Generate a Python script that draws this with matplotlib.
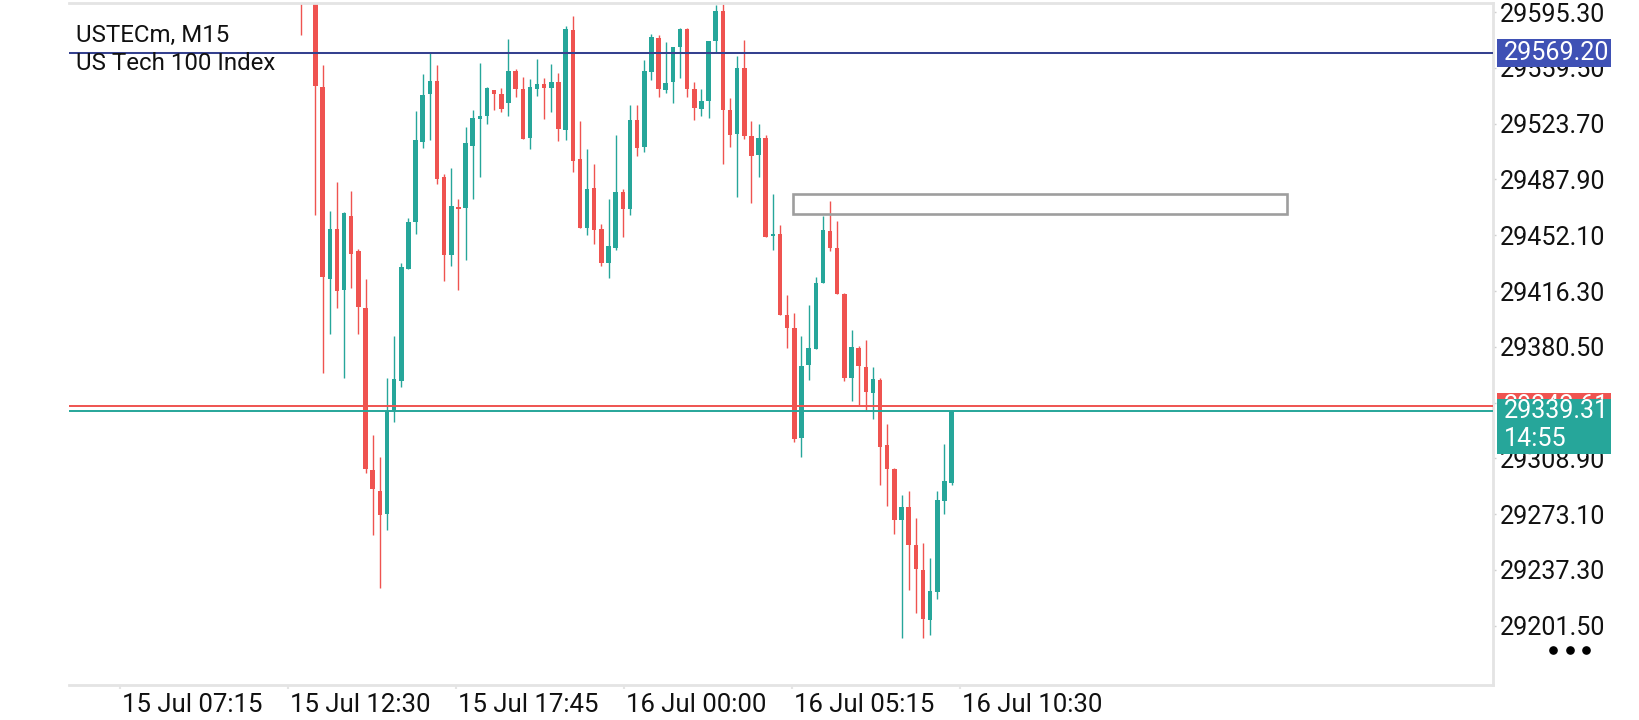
import numpy as np
import matplotlib
matplotlib.use("Agg")
import matplotlib.pyplot as plt
from matplotlib.patches import Rectangle
from matplotlib.lines import Line2D
import matplotlib.transforms as mtransforms

plt.rcParams['font.family'] = ['Roboto', 'DejaVu Sans']

# ---------------- data (M15 candles, bar index 0 = left-most visible) ----------------
opens = [29640.0, np.nan, 29612.0, 29547.4, 29424.3, 29456.3, 29417.1, 29464.7, 29441.8, 29405.4,
         29301.6, 29288.1, 29273.0, 29339.6, 29358.3, 29430.6, 29460.5, 29512.0, 29542.7, 29551.3,
         29489.4, 29439.4, 29470.1, 29469.9, 29509.4, 29526.6, 29528.4, 29545.5, 29542.9, 29536.9,
         29557.8, 29546.1, 29514.6, 29545.8, 29549.2, 29546.3, 29550.7, 29519.8, 29583.8, 29500.8,
         29456.6, 29482.3, 29455.8, 29434.0, 29443.6, 29480.0, 29468.8, 29526.3, 29508.6, 29556.7,
         29578.6, 29545.3, 29550.2, 29573.1, 29584.3, 29546.1, 29533.1, 29538.3, 29576.7, 29596.0,
         29532.5, 29517.2, 29559.6, 29515.6, 29503.7, 29514.3, 29451.7, 29453.2, 29400.9, 29392.6,
         29322.1, 29368.7, 29379.4, 29421.3, 29454.8, 29444.0, 29414.3, 29360.7, 29379.8, 29367.7,
         29350.8, 29359.4, 29317.5, 29302.2, 29269.0, 29277.4, 29253.3, 29237.2, 29205.2, 29223.0,
         29281.5, 29293.3]
highs = [29652.0, np.nan, 29618.0, 29561.4, 29467.8, 29486.2, 29467.3, 29480.5, 29443.1, 29423.8,
         29323.7, 29309.7, 29360.6, 29387.4, 29434.5, 29463.1, 29531.8, 29555.7, 29569.2, 29561.4,
         29491.7, 29495.3, 29475.1, 29521.9, 29532.8, 29562.7, 29547.1, 29545.5, 29546.8, 29578.0,
         29558.8, 29553.9, 29552.6, 29565.3, 29553.1, 29562.2, 29556.5, 29586.4, 29592.6, 29525.2,
         29507.3, 29497.7, 29459.5, 29475.3, 29516.4, 29481.8, 29535.4, 29535.9, 29564.3, 29581.2,
         29580.4, 29576.2, 29572.8, 29585.1, 29585.0, 29550.5, 29546.1, 29576.7, 29599.6, 29600.5,
         29540.1, 29566.9, 29577.3, 29525.5, 29523.2, 29516.4, 29478.7, 29458.9, 29413.7, 29402.0,
         29387.2, 29407.2, 29425.1, 29464.3, 29473.9, 29461.2, 29415.2, 29391.2, 29381.1, 29384.9,
         29367.7, 29360.7, 29330.8, 29302.9, 29285.5, 29288.2, 29270.4, 29254.5, 29245.0, 29287.8,
         29318.3, 29339.31]
lows = [29580.9, np.nan, 29464.9, 29363.5, 29388.5, 29405.1, 29360.4, 29418.4, 29388.5, 29299.3,
        29259.7, 29225.4, 29262.9, 29332.3, 29354.4, 29430.6, 29452.7, 29508.1, 29513.0, 29485.2,
        29422.8, 29432.4, 29417.1, 29436.3, 29475.3, 29489.4, 29523.4, 29532.5, 29531.2, 29528.6,
        29540.6, 29513.8, 29507.6, 29541.4, 29526.6, 29531.2, 29512.5, 29513.3, 29493.0, 29456.6,
        29452.2, 29446.7, 29432.4, 29424.6, 29442.6, 29450.9, 29464.9, 29503.1, 29505.7, 29551.5,
        29540.6, 29543.7, 29536.9, 29553.3, 29540.9, 29526.0, 29528.6, 29527.3, 29569.7, 29497.9,
        29508.9, 29476.9, 29513.8, 29472.7, 29489.6, 29450.9, 29442.8, 29400.7, 29379.6, 29319.5,
        29309.7, 29359.1, 29379.4, 29421.3, 29441.9, 29414.3, 29358.4, 29345.7, 29342.9, 29339.5,
        29334.2, 29291.6, 29278.3, 29260.5, 29193.3, 29224.5, 29209.6, 29193.5, 29195.4, 29218.9,
        29273.0, 29291.6]
closes = [29612.0, np.nan, 29547.6, 29425.4, 29456.3, 29416.6, 29466.2, 29439.9, 29406.2, 29301.9,
          29289.1, 29272.5, 29339.1, 29359.6, 29431.6, 29460.8, 29513.0, 29542.4, 29551.0, 29488.3,
          29439.4, 29470.9, 29468.8, 29511.2, 29527.6, 29528.4, 29546.3, 29542.7, 29533.3, 29557.8,
          29545.8, 29513.8, 29547.4, 29549.2, 29546.3, 29550.7, 29520.3, 29584.3, 29500.0, 29456.6,
          29481.8, 29455.3, 29434.0, 29444.9, 29480.0, 29468.8, 29526.3, 29508.1, 29557.8, 29579.3,
          29545.8, 29549.9, 29572.8, 29584.3, 29546.1, 29533.6, 29538.0, 29576.7, 29596.0, 29532.5,
          29516.4, 29559.6, 29515.9, 29503.1, 29514.8, 29450.9, 29452.2, 29400.7, 29392.4, 29321.4,
          29368.4, 29379.9, 29421.7, 29455.4, 29443.6, 29414.3, 29360.7, 29380.4, 29367.9, 29351.2,
          29360.1, 29316.4, 29301.8, 29269.0, 29277.4, 29253.1, 29237.6, 29205.8, 29224.0, 29281.9,
          29294.6, 29339.31]

bid_price = 29339.31
ask_price = 29342.61
alert_price = 29569.20
time_left = "14:55"

zone_start, zone_end = 68.75, 137.97          # bar index
zone_low, zone_high = 29466.0, 29478.4

price_ticks = [29595.30, 29559.50, 29523.70, 29487.90, 29452.10, 29416.30,
               29380.50, 29344.70, 29308.90, 29273.10, 29237.30, 29201.50]
time_tick_pos = [-25.31, -1.81, 21.69, 45.19, 68.68, 92.18]
time_tick_labels = ["15 Jul 07:15", "15 Jul 12:30", "15 Jul 17:45",
                    "16 Jul 00:00", "16 Jul 05:15", "16 Jul 10:30"]

symbol_text = "USTECm, M15"
symbol_desc = "US Tech 100 Index"

# ---------------- style ----------------
UP = '#26a69a'
DOWN = '#ef5350'
ALERT = '#35418f'
ALERT_BOX = '#3f51b5'
GRID = '#e4e4e4'
FS_PRICE = 18.1
FS_TIME = 18.5
FS_TITLE = 17.3

W, H = 1640, 720
ax_l, ax_r, ax_t, ax_b = 69.0, 1493.3, 2.5, 685.0

fig = plt.figure(figsize=(W / 100, H / 100), dpi=100)
fig.patch.set_facecolor('white')
ax = fig.add_axes([ax_l / W, 1 - ax_b / H, (ax_r - ax_l) / W, (ax_b - ax_t) / H])
ax.set_facecolor('white')

o = np.array(opens, float)
h = np.array(highs, float)
l = np.array(lows, float)
c = np.array(closes, float)
idx = np.arange(len(o))
ok = ~np.isnan(o)
up = c >= o
cols = np.where(up, UP, DOWN)

ax.vlines(idx[ok], l[ok], h[ok], colors=cols[ok], linewidth=1.0, zorder=2)
body_bottom = np.minimum(o, c)
body_h = np.maximum(np.abs(c - o), 1.0)
ax.bar(idx[ok], body_h[ok], bottom=body_bottom[ok], width=0.63, color=cols[ok],
       linewidth=0, zorder=2.1)

# price lines
ax.axhline(alert_price, color=ALERT, lw=1.45, zorder=3)
ax.axhline(ask_price, color=DOWN, lw=1.4, zorder=3)
ax.axhline(bid_price, color=UP, lw=1.4, zorder=3)

# zone rectangle
ax.add_patch(Rectangle((zone_start, zone_low), zone_end - zone_start, zone_high - zone_low,
                       fill=False, edgecolor='#9e9e9e', lw=1.9, zorder=3))

ax.set_xlim(-32.49, 166.8)
ax.set_ylim(29163.4, 29601.5)

# spines
ax.spines['left'].set_visible(False)
for s in ('top', 'right', 'bottom'):
    ax.spines[s].set_color(GRID)
    ax.spines[s].set_linewidth(2.0)

# y axis on the right
ax.yaxis.tick_right()
ax.set_yticks(price_ticks)
ax.set_yticklabels([f"{v:.2f}" for v in price_ticks])
ax.tick_params(axis='y', which='both', length=2.5, width=1, color='#cfcfcf', pad=2.5,
               labelsize=FS_PRICE, labelcolor='#111111', left=False, right=True)

# x axis
ax.set_xticks(time_tick_pos)
ax.set_xticklabels(time_tick_labels)
ax.tick_params(axis='x', length=3.0, width=1.5, color=GRID, pad=3.0,
               labelsize=FS_TIME, labelcolor='#111111')
for lbl in ax.get_xticklabels():
    lbl.set_ha('left')
    lbl.set_transform(lbl.get_transform() + mtransforms.ScaledTranslation(2 / 100, 0, fig.dpi_scale_trans))

# price labels on the right axis
bt = mtransforms.blended_transform_factory(ax.transAxes, ax.transData)
bx0, bx1 = 1.0025, 1.0825
tx = 1.0075

ax.add_patch(Rectangle((bx0, alert_price - 8.85), bx1 - bx0, 17.7, transform=bt,
                       facecolor=ALERT_BOX, edgecolor='none', clip_on=False, zorder=5))
ax.text(tx, alert_price, f"{alert_price:.2f}", transform=bt, color='white', fontsize=FS_PRICE,
        va='center', ha='left', clip_on=False, zorder=6)

ax.add_patch(Rectangle((bx0, ask_price - 8.5), bx1 - bx0, 17.0, transform=bt,
                       facecolor=DOWN, edgecolor='none', clip_on=False, zorder=5))
ax.text(tx, ask_price, f"{ask_price:.2f}", transform=bt, color='white', fontsize=FS_PRICE,
        va='center', ha='left', clip_on=False, zorder=6)

ax.add_patch(Rectangle((bx0, 29311.7), bx1 - bx0, 35.26, transform=bt,
                       facecolor=UP, edgecolor='none', clip_on=False, zorder=7))
ax.text(tx, bid_price, f"{bid_price:.2f}", transform=bt, color='white', fontsize=FS_PRICE,
        va='center', ha='left', clip_on=False, zorder=8)
ax.text(tx, 29321.1, time_left, transform=bt, color='white', fontsize=FS_PRICE,
        va='center', ha='left', clip_on=False, zorder=8)

# menu dots
fig.add_artist(Line2D([1553 / W, 1570 / W, 1586 / W], [1 - 650 / H] * 3,
                      marker='o', ls='', ms=5.2, color='black', transform=fig.transFigure))

# symbol header
fig.text(76.5 / W, 1 - 42.3 / H, symbol_text, fontsize=FS_TITLE, color='#111111', va='baseline')
fig.text(76.5 / W, 1 - 70.0 / H, symbol_desc, fontsize=FS_TITLE, color='#111111', va='baseline')

fig.savefig('out.png', dpi=100, facecolor='white')
